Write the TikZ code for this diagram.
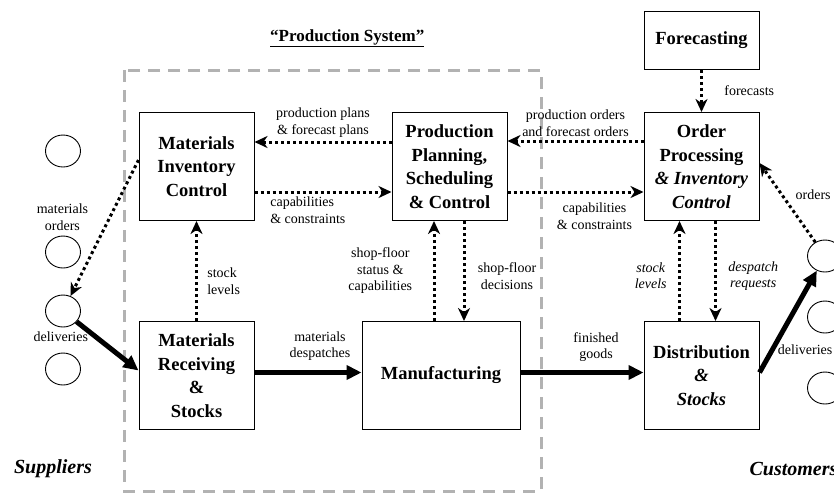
\documentclass[tikz,border=0pt]{standalone}
\usepackage{fontspec}
\setmainfont{Liberation Serif}
\usetikzlibrary{arrows.meta,positioning,shapes.geometric}

\begin{document}
\begin{tikzpicture}[
  x=1pt, y=-1pt,
  font=\fontsize{14}{16.5}\selectfont,
  every node/.style={align=center},
  unit/.style={
    draw, line width=1pt, inner sep=2pt,
    minimum width=115pt, minimum height=108pt,
    font=\fontsize{18.5}{23.5}\selectfont\bfseries
  },
  party/.style={draw, ellipse, line width=0.9pt, inner sep=0pt,
    minimum width=35pt, minimum height=32pt},
  frame/.style={draw=black!30, line width=3pt, dash pattern=on 12pt off 8pt},
  info/.style={-{Stealth[length=13pt,width=12pt,inset=4pt]}, line width=3pt,
    dash pattern=on 3pt off 3pt},
  goods/.style={-{Triangle[length=15pt,width=14pt]}, line width=5pt},
  side/.style={font=\fontsize{20}{24}\selectfont\bfseries\itshape}
]
\useasboundingbox (0,0) rectangle (834,493);

% production system boundary
\draw[frame] (124,70) rectangle (541,491);
\node[font=\fontsize{17}{20}\selectfont\bfseries, anchor=west, inner sep=0pt] (title) at (270,38) {\underline{“Production System”}};

% functions
\node[unit] (mic) at (196.5,166.5) {Materials\\Inventory\\Control};
\node[unit, right=137pt of mic] (ppsc) {Production\\Planning,\\Scheduling\\\& Control};
\node[unit, right=136pt of ppsc] (op) {Order\\Processing\\\textit{\& Inventory}\\\textit{Control}};
\node[unit, minimum height=58pt, above=42pt of op] (fc) {Forecasting};
\node[unit, below=100pt of mic] (mrs) {Materials\\Receiving\\\&\\Stocks};
\node[unit, minimum width=158pt, right=107pt of mrs] (mfg) {Manufacturing};
\node[unit, below=100pt of op] (dist) {Distribution\\\textit{\&}\\\textit{Stocks}};

% suppliers and customers
\node[party] (s1) at (63,151) {};
\node[party] (s2) at (63,252) {};
\node[party] (s3) at (63,311) {};
\node[party] (s4) at (63,369) {};
\node[party] (c1) at (825,256) {};
\node[party] (c2) at (825,317) {};
\node[party] (c3) at (825,388) {};
\node[side] (sup) at (53,469) {Suppliers};
\node[side, anchor=west] (cus) at (746,469) {Customers};

% information flows
\draw[info] ([yshift=24.5pt]ppsc.west) -- node[above]{production plans\\\& forecast plans} ([yshift=24.5pt]mic.east);
\draw[info] ([yshift=-25.5pt]mic.east) -- node[pos=0, anchor=north west, xshift=11pt, align=left]{capabilities\\\& constraints} ([yshift=-25.5pt]ppsc.west);
\draw[info] ([yshift=25.5pt]op.west) -- node[above]{production orders\\and forecast orders} ([yshift=25.5pt]ppsc.east);
\draw[info] ([yshift=-25.5pt]ppsc.east) -- node[below=6pt, xshift=19pt]{capabilities\\\& constraints} ([yshift=-25.5pt]op.west);
\draw[info] (mrs) -- node[pos=0.4, right=6pt, align=left]{stock\\levels} (mic);
\draw[info] ([xshift=-15.5pt]ppsc.south |- mfg.north) -- node[left=17pt]{shop-floor\\status \&\\capabilities} ([xshift=-15.5pt]ppsc.south);
\draw[info] ([xshift=14.5pt]ppsc.south) -- node[pos=0.55, right=9pt]{shop-floor\\decisions} ([xshift=14.5pt]ppsc.south |- mfg.north);
\draw[info] (fc) -- node[right=18pt]{forecasts} (op);
\draw[info] ([xshift=-22pt]op.south |- dist.north) -- node[pos=0.455, left=8pt]{\itshape stock\\\itshape levels} ([xshift=-22pt]op.south);
\draw[info] ([xshift=14pt]op.south) -- node[pos=0.55, right=8pt]{\itshape despatch\\\itshape requests} ([xshift=14pt]op.south |- dist.north);
\draw[info] (c1) -- node[pos=0.6, right=9pt]{orders} ([yshift=3.5pt]op.east);
\draw[info] ([yshift=6.5pt]mic.west) -- node[pos=0.42, left=17pt]{materials\\orders} (s3);

% material flows
\draw[goods] (s3) -- node[pos=0.31, left=2pt]{deliveries} ([yshift=5pt]mrs.west);
\draw[goods] ([yshift=3pt]mrs.east) -- node[above=6pt, xshift=12pt]{materials\\despatches} ([yshift=3pt]mfg.west);
\draw[goods] ([yshift=3pt]mfg.east) -- node[above=5pt, xshift=14pt]{finished\\goods} ([yshift=3pt]dist.west);
\draw[goods] ([yshift=3pt]dist.east) -- node[pos=0.22, right=0pt]{deliveries} (c1);

\end{tikzpicture}
\end{document}
